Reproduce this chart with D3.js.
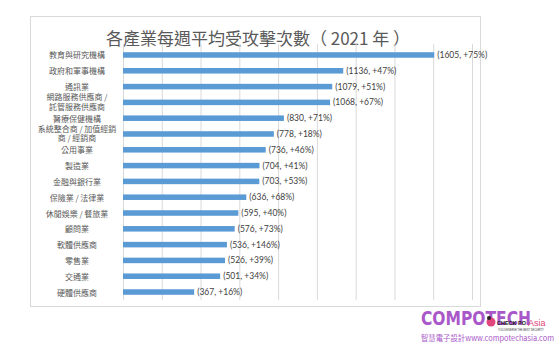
<!DOCTYPE html>
<html>
<head>
<meta charset="utf-8">
<script src="https://cdn.jsdelivr.net/npm/d3@7"></script>
<style>
  html, body { margin: 0; padding: 0; background: #ffffff; }
  svg { display: block; }
</style>
</head>
<body>
<svg id="chart" width="560" height="350"></svg>
<script>
// Average weekly attacks per industry (2021) and year-over-year change
const categories = [
  "教育與研究機構",
  "政府和軍事機構",
  "通訊業",
  "網路服務供應商 /\n託管服務供應商",
  "醫療保健機構",
  "系統整合商 / 加值經銷\n商 / 經銷商",
  "公用事業",
  "製造業",
  "金融與銀行業",
  "保險業 / 法律業",
  "休閒娛樂 / 餐旅業",
  "顧問業",
  "軟體供應商",
  "零售業",
  "交通業",
  "硬體供應商"
];
const attacks = [1605, 1136, 1079, 1068, 830, 778, 736, 704, 703, 636, 595, 576, 536, 526, 501, 367];
const growth = [75, 47, 51, 67, 71, 18, 46, 41, 53, 68, 40, 73, 146, 39, 34, 16];
const xTicks = [0, 200, 400, 600, 800, 1000, 1200, 1400, 1600, 1800];

const rows = categories.map((c, i) => ({ cat: c, value: attacks[i], pct: growth[i] }));

const svg = d3.select("#chart");

// chart frame
svg.append("rect")
  .attr("x", 30.5).attr("y", 16.5)
  .attr("width", 450).attr("height", 290)
  .attr("fill", "#ffffff")
  .attr("stroke", "#d9d9d9").attr("stroke-width", 1);

// title
svg.append("text")
  .attr("x", 258).attr("y", 37)
  .attr("text-anchor", "middle")
  .attr("dominant-baseline", "central")
  .attr("font-family", "'Noto Sans CJK TC', 'Noto Sans CJK SC', sans-serif")
  .attr("font-size", 17)
  .attr("fill", "#595959")
  .text("各產業每週平均受攻擊次數（ 2021 年 ）");

const x = d3.scaleLinear().domain([0, 1800]).range([123, 472]);
const y = d3.scaleBand().domain(categories).range([47, 300]).paddingInner(0.65).paddingOuter(0.33);

// vertical gridlines
svg.append("g")
  .attr("transform", "translate(0,300)")
  .call(d3.axisBottom(x).tickValues(xTicks).tickSize(-256).tickFormat(""))
  .call(g => g.select(".domain").remove())
  .call(g => g.selectAll(".tick line").attr("stroke", "#d9d9d9").attr("stroke-width", 1));

// bars
svg.append("g")
  .selectAll("rect")
  .data(rows)
  .join("rect")
  .attr("x", x(0))
  .attr("y", d => y(d.cat))
  .attr("width", d => x(d.value) - x(0))
  .attr("height", y.bandwidth())
  .attr("fill", "#5b9bd5");

// value labels
svg.append("g")
  .selectAll("text")
  .data(rows)
  .join("text")
  .attr("x", d => x(d.value) + 3)
  .attr("y", d => y(d.cat) + y.bandwidth() / 2)
  .attr("dominant-baseline", "central")
  .attr("font-family", "Lato, 'Open Sans', sans-serif")
  .attr("font-size", 8.5)
  .attr("fill", "#404040")
  .text(d => `(${d.value}, +${d.pct}%)`);

// category labels (centered column, may wrap to two lines)
const yAxis = d3.axisLeft(y).tickSize(0).tickPadding(0);
const axisG = svg.append("g").attr("transform", "translate(123,0)").call(yAxis);
axisG.select(".domain").remove();
axisG.selectAll(".tick text").remove();
axisG.selectAll(".tick").each(function(d) {
  const lines = d.split("\n");
  const lineH = 9.5;
  const top = -((lines.length - 1) * lineH) / 2 - (lines.length > 1 ? 1 : 0);
  const t = d3.select(this).append("text")
    .attr("text-anchor", "middle")
    .attr("font-family", "'Noto Sans CJK TC', 'Noto Sans CJK SC', sans-serif")
    .attr("font-size", 8)
    .attr("fill", "#595959");
  lines.forEach((ln, i) => {
    t.append("tspan")
      .attr("x", 77 - 123)
      .attr("y", top + i * lineH)
      .attr("dominant-baseline", "central")
      .text(ln);
  });
});

// publisher mark
const mark = svg.append("g");
mark.append("text")
  .attr("x", 421).attr("y", 325)
  .attr("font-family", "'Liberation Sans Narrow', 'DejaVu Sans Condensed', sans-serif")
  .attr("font-weight", "bold")
  .attr("font-size", 20)
  .attr("textLength", 110)
  .attr("lengthAdjust", "spacingAndGlyphs")
  .attr("fill", "#a957c9")
  .text("COMPOTECH");
mark.append("text")
  .attr("x", 421).attr("y", 341)
  .attr("font-family", "'Noto Sans CJK TC', sans-serif")
  .attr("font-size", 7.5)
  .attr("textLength", 133)
  .attr("lengthAdjust", "spacingAndGlyphs")
  .attr("fill", "#a957c9")
  .text("智慧電子設計www.compotechasia.com");
mark.append("circle")
  .attr("cx", 491).attr("cy", 322).attr("r", 4.5)
  .attr("fill", "#e0457b");
mark.append("circle")
  .attr("cx", 489).attr("cy", 318).attr("r", 2)
  .attr("fill", "#222222");
mark.append("text")
  .attr("x", 497).attr("y", 325)
  .attr("font-family", "'Liberation Sans', sans-serif")
  .attr("font-weight", "bold")
  .attr("font-size", 6)
  .attr("textLength", 29)
  .attr("lengthAdjust", "spacingAndGlyphs")
  .attr("fill", "#222222")
  .text("CHECK PO");
mark.append("text")
  .attr("x", 528).attr("y", 326)
  .attr("font-family", "'Liberation Sans', sans-serif")
  .attr("font-size", 9)
  .attr("fill", "#e0457b")
  .text("Asia");
mark.append("text")
  .attr("x", 498).attr("y", 330.5)
  .attr("font-family", "'Liberation Sans', sans-serif")
  .attr("font-size", 2.6)
  .attr("fill", "#333333")
  .text("YOU DESERVE THE BEST SECURITY");
</script>
</body>
</html>
